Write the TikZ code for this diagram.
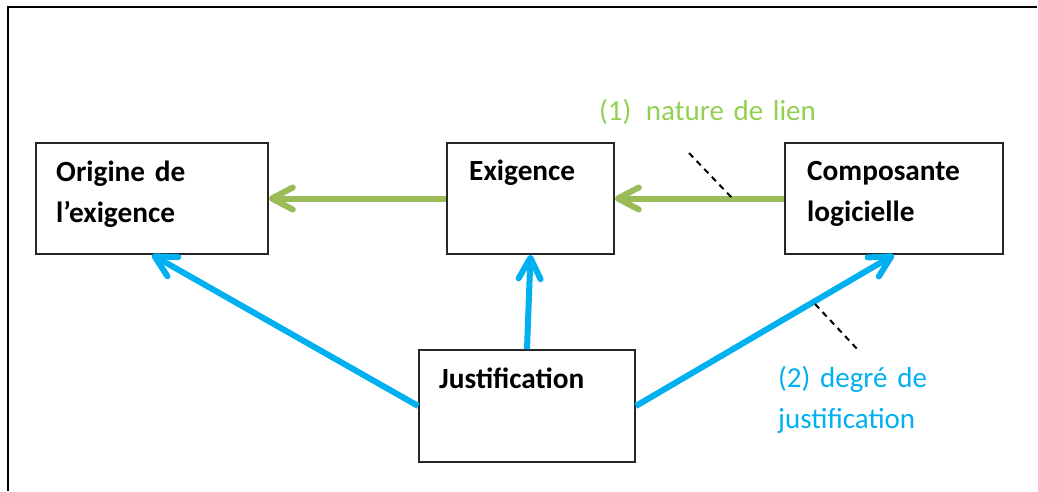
\documentclass[tikz,border=0pt]{standalone}
\usepackage{fontspec}
\setmainfont{Carlito}
\usetikzlibrary{arrows.meta,calc}
\definecolor{arrgreen}{HTML}{9BBB59}
\definecolor{lblgreen}{HTML}{92D050}
\definecolor{skyblue}{HTML}{00B0F0}
\tikzset{
  box/.style={draw=black!85, line width=1.6pt, fill=white, inner sep=0pt},
  boxtext/.style={anchor=base west, inner sep=0pt, text width=220pt, align=left,
    font=\fontsize{29.3}{41}\selectfont\bfseries},
  greenarrow/.style={draw=arrgreen, line width=6pt,
    -{Straight Barb[length=21pt,width=22pt,round]}},
  bluearrow/.style={draw=skyblue, line width=6pt,
    -{Straight Barb[length=21pt,width=22pt,round]}},
  leader/.style={draw=black, line width=2pt, dash pattern=on 6pt off 5pt},
  lbl/.style={anchor=base west, inner sep=0pt, text width=250pt, align=left,
    font=\fontsize{29}{41}\selectfont}
}
\begin{document}
\begin{tikzpicture}[x=1pt,y=-1pt]
\useasboundingbox (0,0) rectangle (1038,491);
% frame
\draw[line width=2pt] (7.5,491) -- (7.5,6.5) -- (1037,6.5);
% boxes
\node[box, minimum width=232pt, minimum height=111pt] (orig) at (152,198.5) {};
\node[box, minimum width=167pt, minimum height=111pt] (ex) at (530.5,198.5) {};
\node[box, minimum width=218pt, minimum height=111pt] (comp) at (894,198.5) {};
\node[box, minimum width=216pt, minimum height=112pt] (just) at (527,406) {};
% box texts
\node[boxtext] (origt) at (56,181) {Origine de\\l’exigence};
\node[boxtext] (ext) at (469,180) {Exigence};
\node[boxtext] (compt) at (807,180) {Composante\\logicielle};
\node[boxtext] (justt) at (439,388) {Justification};
% green arrows
\draw[greenarrow] (ex.west) -- (orig.east);
\draw[greenarrow] (comp.west) -- (ex.east);
% blue arrows
\draw[bluearrow] (just.west) -- (orig.south);
\draw[bluearrow] (just.north) -- (ex.south);
\draw[bluearrow] (just.east) -- (comp.south);
% leaders
\coordinate (l1a) at (689,153);
\coordinate (l1b) at (733,199);
\coordinate (l2a) at (815,304);
\coordinate (l2b) at (859,351);
\draw[leader] (l1a) -- (l1b);
\draw[leader] (l2a) -- (l2b);
% labels
\node[lbl, text=lblgreen] (lab1) at (599,120) {(1)\hspace{0.5em}nature de lien};
\node[lbl, text=skyblue] (lab2) at (778,387) {(2) degré de\\justification};
\end{tikzpicture}
\end{document}
